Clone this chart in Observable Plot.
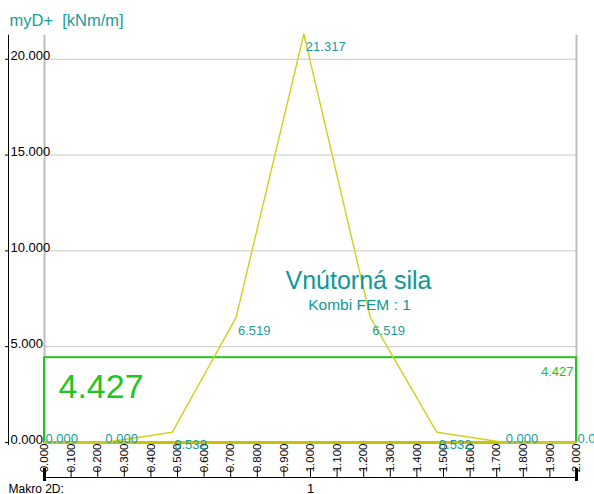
<!DOCTYPE html>
<html>
<head>
<meta charset="utf-8">
<script src="https://cdn.jsdelivr.net/npm/d3@7"></script>
<script src="https://cdn.jsdelivr.net/npm/@observablehq/plot@0.6"></script>
<style>
  html, body { margin: 0; padding: 0; background: #fff; overflow: hidden; }
  svg { font-family: "Liberation Sans", Arial, sans-serif; }
</style>
</head>
<body>
<div id="chart"></div>
<script>
// ---- data ----
const positions = [0, 0.225, 0.48, 0.72, 0.975, 1.225, 1.475, 1.73, 2.0];
const values    = [0, 0, 0.532, 6.519, 21.317, 6.519, 0.532, 0, 0];
const envelopeValue = 4.427;
const xTicks = [0, 0.1, 0.2, 0.3, 0.4, 0.5, 0.6, 0.7, 0.8, 0.9, 1.0, 1.1, 1.2, 1.3, 1.4, 1.5, 1.6, 1.7, 1.8, 1.9, 2.0];
const yTicks = [0, 5, 10, 15, 20];
const memberLabels = [{x: 1, label: "1"}];
const unitLabel = "myD+  [kNm/m]";
const titleText = "Vnútorná sila";
const subtitleText = "Kombi FEM : 1";
const footerText = "Makro 2D:";

const points = positions.map((x, i) => ({x, v: values[i]}));
const fmt = d3.format(".3f");
const yTop = 21.25;
const teal = "#1c9c9c";
const green = "#22c422";
const lineYellow = "#d0d020";
const baseYellow = "#c4c400";
const FONT = "Liberation Sans, Arial, sans-serif";

const chart = Plot.plot({
  width: 594,
  height: 494,
  marginLeft: 44,
  marginRight: 18,
  marginTop: 30,
  marginBottom: 52,
  style: {fontFamily: FONT, background: "#fff", overflow: "hidden"},
  x: {domain: [0, 2], axis: null},
  y: {domain: [0, 21.5], axis: null},
  marks: [
    // grid
    Plot.gridY(yTicks.filter(d => d > 0), {stroke: "#c8c8c8", strokeOpacity: 1}),
    // frame verticals
    Plot.ruleX([0, 2], {y1: 0, y2: yTop, stroke: "#bebebe", strokeWidth: 2}),
    // y axis black line + ticks + labels
    Plot.ruleX([0], {dx: -36, y1: -0.15, y2: yTop, stroke: "#000"}),
    Plot.axisY(yTicks, {anchor: "left", tickSize: 3, dx: -36, tickFormat: () => "", stroke: "#000"}),
    Plot.axisY(yTicks, {anchor: "left", tickSize: 0, tickPadding: 0, dx: -34, textAnchor: "start",
      lineAnchor: "bottom", dy: 1, tickFormat: fmt, fontSize: 13, fill: "#000"}),
    // x axis labels (rotated) + tick marks + axis line
    Plot.axisX(xTicks, {anchor: "bottom", tickSize: 0, tickPadding: 1, tickRotate: -90,
      tickFormat: fmt, fontSize: 11.5, fill: "#000"}),
    Plot.axisX(xTicks, {anchor: "bottom", tickSize: 9, dy: 26, tickFormat: () => "", stroke: "#000"}),
    Plot.axisX([0, 2], {anchor: "bottom", tickSize: 13, dy: 26, strokeWidth: 3, tickFormat: () => "", stroke: "#000"}),
    Plot.ruleY([0], {dy: 35, stroke: "#000"}),
    Plot.text(memberLabels, {x: "x", y: () => 0, text: "label", dy: 50, lineAnchor: "bottom",
      fontSize: 13, fill: "#000"}),
    // envelope rectangle
    Plot.rect([{x1: 0, x2: 2, y1: 0, y2: envelopeValue}], {x1: "x1", x2: "x2", y1: "y1", y2: "y2",
      fill: "none", stroke: green, strokeWidth: 2}),
    Plot.text([envelopeValue], {x: () => 0, y: d => d, text: d => fmt(d), textAnchor: "start",
      lineAnchor: "bottom", dx: 14, dy: 40, fontSize: 34, fill: green}),
    Plot.text([envelopeValue], {x: () => 2, y: d => d, text: d => fmt(d), textAnchor: "end",
      lineAnchor: "bottom", dx: -3, dy: 18, fontSize: 13, fill: green}),
    // base line and curve
    Plot.ruleY([0], {x1: 0, x2: 2, stroke: baseYellow, strokeWidth: 3}),
    Plot.line(points, {x: "x", y: "v", stroke: lineYellow, strokeWidth: 1.4}),
    // value labels
    Plot.text(points.filter(d => d.v === 0), {x: "x", y: "v", text: d => fmt(d.v), textAnchor: "start",
      lineAnchor: "bottom", dx: 1, dy: 0, fontSize: 13, fill: teal}),
    Plot.text(points.filter(d => d.v !== 0), {x: "x", y: "v", text: d => fmt(d.v), textAnchor: "start",
      lineAnchor: "bottom", dx: 2, dy: 17, fontSize: 13, fill: teal}),
    // title block
    Plot.text([titleText], {frameAnchor: "middle", text: d => d, dx: 48, dy: 52, lineAnchor: "bottom",
      fontSize: 25, fill: "#0e9898"}),
    Plot.text([subtitleText], {frameAnchor: "middle", text: d => d, dx: 49, dy: 73, lineAnchor: "bottom",
      fontSize: 15.5, fill: "#0e9898"}),
    Plot.text([unitLabel], {frameAnchor: "top-left", text: d => d, dx: -35, dy: -5, lineAnchor: "bottom",
      textAnchor: "start", fontSize: 16.5, fill: teal}),
    Plot.text([footerText], {frameAnchor: "bottom-left", text: d => d, dx: -36, dy: 50, lineAnchor: "bottom",
      textAnchor: "start", fontSize: 12, fill: "#000"})
  ]
});
document.getElementById("chart").appendChild(chart);
</script>
</body>
</html>
